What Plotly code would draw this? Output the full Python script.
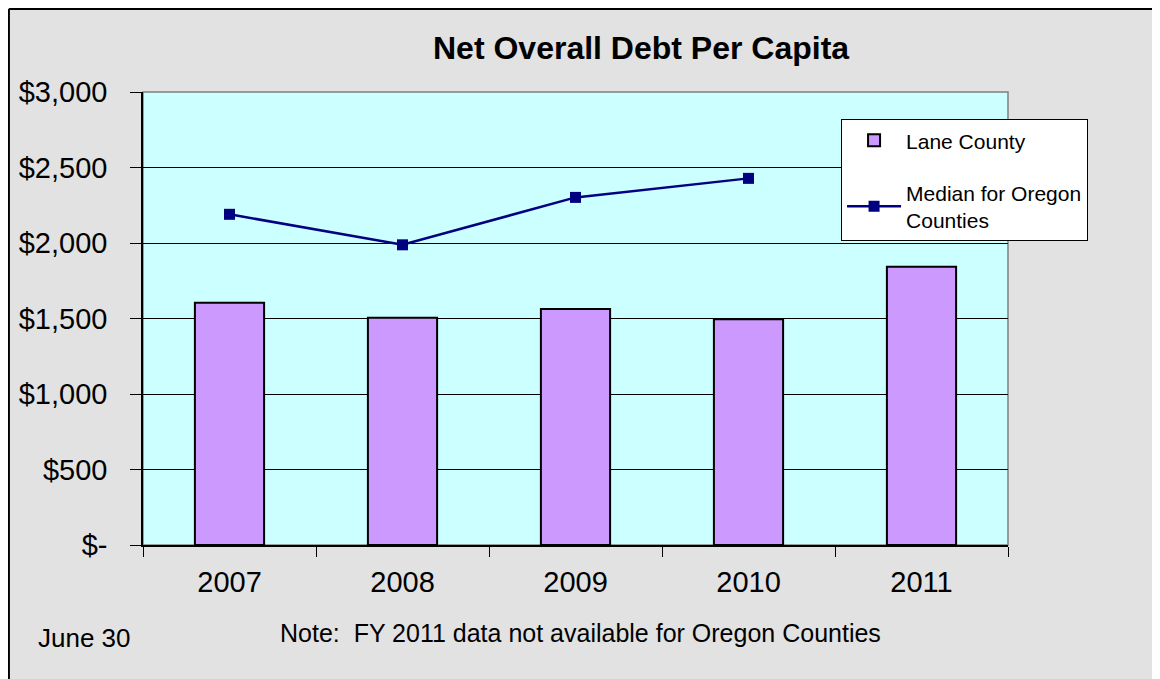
import plotly.graph_objects as go

years = ["2007", "2008", "2009", "2010", "2011"]
lane_county = [1605, 1505, 1563, 1495, 1843]
median_years = ["2007", "2008", "2009", "2010"]
median_oregon = [2190, 1988, 2302, 2428]
y_tickvals = [0, 500, 1000, 1500, 2000, 2500, 3000]
y_ticktext = ["$-", "$500", "$1,000", "$1,500", "$2,000", "$2,500", "$3,000"]

FONT = "Arial, Liberation Sans, sans-serif"

fig = go.Figure()
fig.add_trace(go.Bar(
    x=years, y=lane_county, name="Lane County",
    marker=dict(color="#cc99ff", line=dict(color="black", width=2)),
    legendgroup="a",
))
fig.add_trace(go.Scatter(
    x=median_years, y=median_oregon, name="Median for Oregon<br>Counties",
    mode="lines+markers",
    line=dict(color="#000080", width=2.5),
    marker=dict(symbol="square", size=11, color="#000080"),
    legendgroup="b",
))

fig.update_layout(
    width=1160, height=679,
    margin=dict(l=135, r=160, t=84, b=142),
    paper_bgcolor="#e2e2e2",
    plot_bgcolor="#ccffff",
    font=dict(family=FONT, color="black"),
    bargap=0.6,
    showlegend=True,
    legend=dict(
        x=0.807, y=0.94, xanchor="left", yanchor="top",
        bgcolor="white", bordercolor="black", borderwidth=1,
        font=dict(size=21, family=FONT),
        tracegroupgap=22, traceorder="grouped",
        itemwidth=54,
    ),
    xaxis=dict(
        type="category", showgrid=False,
        showline=True, linecolor="black", linewidth=1.5,
        ticks="outside", tickson="boundaries", ticklen=10, tickcolor="black",
        tickfont=dict(size=29, family=FONT),
        ticklabelstandoff=10,
    ),
    yaxis=dict(
        range=[0, 3000], tickvals=y_tickvals, ticktext=y_ticktext,
        showgrid=True, gridcolor="black", gridwidth=1,
        showline=True, linecolor="black", linewidth=1.5,
        ticks="outside", ticklen=11, tickcolor="black",
        tickfont=dict(size=29, family=FONT),
        ticklabelstandoff=17, zeroline=False,
    ),
    shapes=[
        dict(type="rect", xref="paper", yref="paper", x0=0, x1=1, y0=0, y1=1,
             line=dict(color="#808080", width=1.5), layer="below"),
        dict(type="line", xref="paper", yref="paper", x0=-0.155, x1=1.2,
             y0=1.183, y1=1.183, line=dict(color="black", width=2)),
        dict(type="line", xref="paper", yref="paper", x0=-0.155, x1=-0.155,
             y0=1.183, y1=-0.35, line=dict(color="black", width=2)),
    ],
    annotations=[
        dict(text="<b>Net Overall Debt Per Capita</b>", xref="paper", yref="paper",
             x=0.576, y=1.097, xanchor="center", yanchor="middle",
             showarrow=False, font=dict(size=32, family=FONT)),
        dict(text="June 30", xref="paper", yref="paper",
             x=-0.068, y=-0.205, xanchor="center", yanchor="middle",
             showarrow=False, font=dict(size=26, family=FONT)),
        dict(text="Note:  FY 2011 data not available for Oregon Counties",
             xref="paper", yref="paper",
             x=0.506, y=-0.194, xanchor="center", yanchor="middle",
             showarrow=False, font=dict(size=25, family=FONT)),
    ],
)

fig.write_html("out.html")
